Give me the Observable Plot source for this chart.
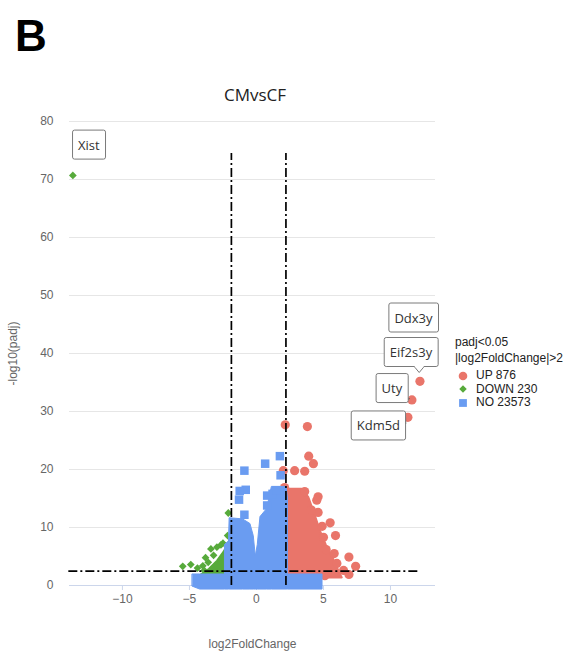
<!DOCTYPE html>
<html><head><meta charset="utf-8">
<script src="https://cdn.jsdelivr.net/npm/d3@7"></script>
<script src="https://cdn.jsdelivr.net/npm/@observablehq/plot@0.6"></script>
<style>
body{margin:0;background:#fff;}
#wrap{position:relative;width:563px;height:657px;overflow:hidden;}
#panel{position:absolute;left:15px;top:11px;font:bold 44px "Liberation Sans",Arial,sans-serif;color:#000;}
#title{position:absolute;left:0;width:510px;top:83px;text-align:center;font:17px "Open Sans",sans-serif;color:#222;}
#legend{position:absolute;left:455px;top:335px;font:12px "Liberation Sans",Arial,sans-serif;color:#222;line-height:15.5px;white-space:nowrap;}
#legend .it{display:flex;align-items:center;height:13.5px;}
#legend svg{margin-left:2px;margin-right:7px;}
#chart{position:absolute;left:0;top:0;}
</style></head>
<body><div id="wrap">
<div id="chart"></div>
<div id="panel">B</div>
<div id="title">CMvsCF</div>
<div id="legend"></div>
</div>
<script>
// ---- data ----
const yTicks = [0, 10, 20, 30, 40, 50, 60, 70, 80];
const xTicks = [-10, -5, 0, 5, 10];
const vLines = [-1.87, 2.2];
const hLine = 2.47;
const legendTitle = ["padj<0.05", "|log2FoldChange|>2"];
const groups = ["UP", "DOWN", "NO"];
const counts = [876, 230, 23573];
const colors = ["#e9756a", "#57aa3b", "#6a9cf1"];

// dense cores of each cloud (x, lower edge, upper edge)
const blueCore = [
  [-4.75, -0.2, 1.9], [-4.2, -0.7, 1.9], [-2.35, -0.7, 1.9], [-2.35, -0.7, 7.0],
  [-2.05, -0.7, 7.6], [-2.0, -0.7, 11.6], [-1.0, -0.7, 11.4], [-0.45, -0.7, 10.6],
  [-0.2, -0.7, 8.5], [-0.05, -0.7, 5.0], [0.1, -0.7, 7.0], [0.3, -0.7, 11.8],
  [0.8, -0.7, 13.2], [1.15, -0.7, 17.0], [2.25, -0.7, 17.0], [2.35, -0.7, 15.0],
  [2.35, -0.7, 1.9], [4.93, -0.7, 1.9]
];
const redCore = [
  [2.3, 1.3, 16.6], [3.4, 1.3, 16.6], [3.9, 1.3, 15.2], [4.35, 1.3, 12.3],
  [4.75, 1.3, 9.5], [5.2, 1.3, 7.0], [5.8, 1.3, 4.3], [6.2, 1.3, 2.2], [6.4, 1.3, 1.3]
];
const greenCore = [
  [-4.3, 1.3, 1.5], [-3.5, 1.3, 2.8], [-2.9, 1.3, 4.2], [-2.4, 1.3, 5.8], [-2.0, 1.3, 7.6]
];

// individually visible points
const upX = [2.15, 3.8, 3.9, 4.25, 2.85, 3.6, 2.0, 2.1, 3.6, 4.6, 4.5, 4.6, 5.5, 5.9, 5.0, 6.9, 7.4, 6.9, 5.8, 6.0, 5.1, 4.1, 4.9, 5.2, 6.5, 12.2, 11.6, 11.3];
const upY = [27.7, 27.4, 22.3, 21.0, 19.8, 19.7, 19.8, 16.9, 16.2, 15.3, 14.7, 12.6, 10.8, 8.6, 8.3, 4.9, 3.3, 1.9, 5.5, 3.8, 1.7, 13.0, 10.2, 6.2, 2.6, 35.2, 32.0, 29.0];
const downX = [-2.1, -2.15, -2.5, -2.65, -2.95, -3.4, -3.2, -3.8, -3.6, -4.9, -5.5, -4.4, -4.0, -3.9, -13.7];
const downY = [12.5, 8.6, 7.3, 7.0, 6.6, 6.3, 5.2, 4.8, 4.0, 3.6, 3.3, 3.0, 3.4, 2.6, 70.7];
const noX = [1.75, 0.65, -0.9, 1.8, -0.8, -1.25, -1.3, -0.9, 0.8, 1.2, 1.5, 0.8];
const noY = [22.3, 21.0, 19.8, 19.0, 16.5, 16.3, 14.8, 12.2, 15.5, 15.8, 16.4, 13.8];

// gene labels: point, label-centre offset (px), connector style
const geneNames = ["Xist", "Ddx3y", "Eif2s3y", "Uty", "Kdm5d"];
const geneX = [-13.7, 12.2, 12.2, 11.6, 11.3];
const geneY = [70.7, 35.2, 35.2, 32.0, 29.0];
const geneDx = [16, -6.5, -9, -20, -29.5];
const geneDy = [-30, -63, -28.5, -11, 9];
const geneLink = ["none", "none", "tip", "line", "line"];

// ---- build tables ----
const core = (arr) => arr.map(([x, lo, hi]) => ({x, lo, hi}));
const pts = (xs, ys) => xs.map((x, i) => ({x, y: ys[i]}));
const genes = geneNames.map((g, i) => ({g, x: geneX[i], y: geneY[i], dx: geneDx[i], dy: geneDy[i], link: geneLink[i]}));

const dash = {stroke: "#000", strokeWidth: 1.7, strokeDasharray: "9,3,2,3"};

const plot = Plot.plot({
  width: 563, height: 657,
  marginLeft: 69, marginRight: 128, marginTop: 121, marginBottom: 72,
  x: {domain: [-13.95, 13.36]},
  y: {domain: [0, 80]},
  style: {fontFamily: "'Liberation Sans', Arial, sans-serif", fontSize: "12px", background: "transparent", overflow: "visible"},
  marks: [
    Plot.ruleY(yTicks.filter(d => d > 0), {stroke: "#e6e6e6"}),
    Plot.ruleY([0], {stroke: "#ccd6eb"}),
    Plot.axisY({ticks: yTicks, tickSize: 0, tickPadding: 16, fill: "#666", label: "-log10(padj)", labelAnchor: "center", labelOffset: 61, labelArrow: "none"}),
    Plot.axisX({ticks: xTicks, tickSize: 5, tickPadding: 4, stroke: "#ccd6eb", fill: "#666", label: "log2FoldChange", labelAnchor: "center", labelOffset: 62, labelArrow: "none"}),
    // UP
    Plot.areaY(core(redCore), {x: "x", y1: "lo", y2: "hi", fill: colors[0], stroke: colors[0], strokeWidth: 2}),
    Plot.dot(pts(upX, upY), {x: "x", y: "y", r: 4.6, fill: colors[0], symbol: "circle"}),
    // DOWN
    Plot.areaY(core(greenCore), {x: "x", y1: "lo", y2: "hi", fill: colors[1], stroke: colors[1], strokeWidth: 2}),
    Plot.dot(pts(downX, downY), {x: "x", y: "y", r: 3.5, fill: colors[1], symbol: "diamond2"}),
    // NO
    Plot.areaY(core(blueCore), {x: "x", y1: "lo", y2: "hi", fill: colors[2], stroke: colors[2], strokeWidth: 1}),
    Plot.dot(pts(noX, noY), {x: "x", y: "y", r: 4.8, fill: colors[2], symbol: "square"}),
    // thresholds
    Plot.ruleX(vLines, {y1: 0, y2: 74.5, ...dash}),
    Plot.ruleY([hLine], {x1: -14, x2: 12.2, ...dash}),
    // gene labels, one mark each so each gets its own offset
    ...genes.map((d) => Plot.text([d], {x: "x", y: "y", dx: d.dx, dy: d.dy, text: "g", fill: "#333", fontSize: 13, fontFamily: "'Open Sans', sans-serif"}))
  ]
});
document.getElementById("chart").appendChild(plot);

// label boxes and connectors, drawn in a layer under the label texts
const sx = plot.scale("x"), sy = plot.scale("y");
const ns = "http://www.w3.org/2000/svg";
const labelGroups = Array.from(plot.querySelectorAll("g")).filter(g => g.getAttribute("aria-label") === "text");
const layer = document.createElementNS(ns, "g");
if (labelGroups.length) labelGroups[0].parentNode.insertBefore(layer, labelGroups[0]);
const svgRect = plot.getBoundingClientRect();
const add = (tag, attrs) => { const e = document.createElementNS(ns, tag); for (const k in attrs) e.setAttribute(k, attrs[k]); layer.appendChild(e); return e; };
labelGroups.forEach((lg, i) => {
  const t = lg.querySelector("text");
  const d = genes[i];
  if (!t || !d) return;
  const r = t.getBoundingClientRect();
  const px = 5.5, py = 5.5;
  const x0 = r.left - svgRect.left - px, y0 = r.top - svgRect.top - py;
  const w = r.width + 2 * px, h = r.height + 2 * py;
  const pX = sx.apply(d.x), pY = sy.apply(d.y);
  if (d.link === "line") {
    const qx = x0 + w;
    const qy = Math.max(y0 + h * 0.45, Math.min(pY, y0 + h));
    add("line", {x1: qx, y1: qy, x2: pX - 2, y2: pY - 1, stroke: "#444", "stroke-width": 1.2});
  }
  add("rect", {x: x0, y: y0, width: w, height: h, rx: 2, fill: "#fff", stroke: "#7a7a7a", "stroke-width": 1});
  if (d.link === "tip") {
    const cx = x0 + w / 2 + 8;
    add("path", {d: `M${cx - 5},${y0 + h} L${cx},${y0 + h + 6} L${cx + 5},${y0 + h}`, fill: "#fff", stroke: "#7a7a7a"});
    add("line", {x1: cx - 4.3, x2: cx + 4.3, y1: y0 + h, y2: y0 + h, stroke: "#fff", "stroke-width": 1.5});
  }
});

// legend
const leg = document.getElementById("legend");
legendTitle.forEach(s => { const d = document.createElement("div"); d.textContent = s; leg.appendChild(d); });
const sp = document.createElement("div"); sp.style.height = "3px"; leg.appendChild(sp);
const syms = ["circle", "diamond2", "square"];
const symFns = {circle: d3.symbolCircle, diamond2: d3.symbolDiamond2, square: d3.symbolSquare};
const symR = [4.3, 3.4, 4.4];
groups.forEach((gname, i) => {
  const it = document.createElement("div"); it.className = "it";
  const s = d3.create("svg").attr("width", 12).attr("height", 12);
  s.append("path").attr("transform", "translate(6,6)")
    .attr("d", d3.symbol(symFns[syms[i]], Math.PI * symR[i] * symR[i])())
    .attr("fill", colors[i]);
  it.appendChild(s.node());
  const sp2 = document.createElement("span"); sp2.textContent = gname + " " + counts[i];
  it.appendChild(sp2);
  leg.appendChild(it);
});
</script>
</body></html>
